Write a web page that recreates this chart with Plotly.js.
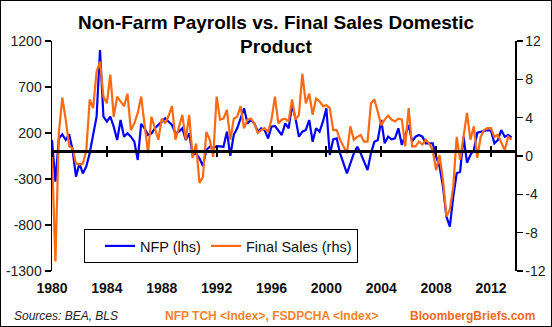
<!DOCTYPE html>
<html>
<head>
<meta charset="utf-8">
<script src="https://cdn.plot.ly/plotly-3.0.1.min.js"></script>
<style>
  html, body { margin: 0; padding: 0; background: #fff; }
  #wrap { width: 552px; height: 327px; box-sizing: border-box; border: 1px solid #000; overflow: hidden; }
  #chart { width: 550px; height: 325px; }
</style>
</head>
<body>
<div id="wrap"><div id="chart"></div></div>
<script>
// Quarterly observations, starting 1980 Q1
const startYear = 1980;

// Non-farm payrolls, monthly change averaged per quarter (thousands) - left axis
const nfp = [
  124, -329, 140, 186, 124, 186, 15, -275, -130, -240, -163, -18, 182, 377, 1102, 377,
  323, 377, 269, 124, 341, 160, 197, 160, 106, -93, 300, 251, 178, 197, 251, 287,
  323, 359, 323, 287, 197, 215, 251, 124, 197, -39, -21, -75, -159, 15, 51, 33,
  58, 58, 51, 215, -48, 180, 251, 360, 468, 305, 341, 305, 214, 251, 232, 142,
  269, 276, 232, 178, 305, 251, 504, 360, 160, 214, 232, 341, 105, 251, 214, 323,
  468, -39, 131, 142, -21, -130, -238, -130, -21, 51, -21, -112, -202, -21, 105, 124,
  341, 88, 160, 131, 142, 251, 70, 178, 287, 105, 160, 178, 160, 88, 88, 88,
  -57, -166, -383, -710, -818, -492, -238, -221, 160, -123, -39, 15, 203, 214, 225, 232,
  225, 88, 124, 232, 160, 178, 153
];

// Final sales of domestic product, % change annualized - right axis
const finalSales = [
  0.0, -11.0, 2.4, 6.1, 3.8, 1.0, 0.8, -0.8, -0.9, -0.8, 0.6, 5.9, 5.0, 8.8, 9.85, 6.2,
  5.5, 8.5, 4.1, 6.2, 5.7, 5.2, 6.5, 2.7, 3.4, 4.5, 6.2, 3.5, 0.3, 4.1, 2.9, 1.7,
  3.9, 3.4, 4.2, 5.2, 1.7, 3.0, 4.3, 1.7, 4.3, -0.2, 1.3, -2.8, -2.2, 2.5, 1.7, -0.1,
  6.2, 3.8, 3.9, 4.8, 1.7, 3.9, 4.1, 5.2, 2.9, 3.8, 3.9, 3.4, 2.4, 2.7, 2.9, 2.5,
  3.8, 6.2, 3.4, 3.8, 3.9, 3.6, 5.9, 3.8, 4.3, 8.6, 5.5, 6.5, 4.3, 6.0, 5.7, 5.2,
  5.3, 5.0, 2.7, 2.7, 1.7, 1.0, 0.3, 3.1, 1.7, 2.0, 2.2, 1.5, 1.5, 5.5, 5.9, 4.6,
  3.2, 3.8, 4.2, 3.8, 3.6, 3.9, 3.8, 1.0, 5.0, 1.0, 1.0, 1.5, 1.2, 1.7, 1.3, 0.6,
  -1.5, 0.1, -2.5, -6.3, -5.6, -3.2, 2.0, -0.4, 2.0, 4.5, 1.7, 3.1, -0.2, 2.0, 2.7, 2.9,
  2.9, 2.0, 2.2, 1.3, 0.6, 2.0, 1.7
];

// Axis ticks
const xTickYears = [1980, 1984, 1988, 1992, 1996, 2000, 2004, 2008, 2012];
const leftTicks = [-1300, -800, -300, 200, 700, 1200];
const rightTicks = [-12, -8, -4, 0, 4, 8, 12];

const xRange = [1980, 2013.75];
const quarters = nfp.map((_, i) => startYear + i / 4);

const FONT = 'Liberation Sans, Arial, sans-serif';

const traces = [
  { x: quarters, y: nfp, name: 'NFP (lhs)', type: 'scatter', mode: 'lines',
    line: { color: '#0000FF', width: 2.2 }, xaxis: 'x', yaxis: 'y' },
  { x: quarters, y: finalSales, name: 'Final Sales (rhs)', type: 'scatter', mode: 'lines',
    line: { color: '#FF6A10', width: 2.2 }, xaxis: 'x', yaxis: 'y2' },
  { x: [], y: [], xaxis: 'x2', yaxis: 'y', showlegend: false, hoverinfo: 'skip' },
  { x: [], y: [], xaxis: 'x3', yaxis: 'y', showlegend: false, hoverinfo: 'skip' }
];

const zeroPos = (0 - leftTicks[0]) / (leftTicks[leftTicks.length - 1] - leftTicks[0]);

const yStyle = {
  showline: true, linecolor: '#000', linewidth: 1.5,
  ticks: 'outside', ticklen: 6, tickwidth: 1.5, tickcolor: '#000',
  showgrid: false, zeroline: false, fixedrange: true,
  tickfont: { family: FONT, size: 14, color: '#222' }
};

const layout = {
  width: 550, height: 325,
  margin: { l: 51, r: 36, t: 40, b: 55, pad: 0 },
  paper_bgcolor: '#fff', plot_bgcolor: '#fff',
  showlegend: true,
  title: {
    text: 'Non-Farm Payrolls vs. Final Sales Domestic<br>Product',
    font: { family: FONT, size: 19, weight: 'bold', color: '#000' },
    x: 0.5, xref: 'container', xanchor: 'center',
    y: 0.915, yref: 'container', yanchor: 'top'
  },
  xaxis: {
    range: xRange, tickvals: xTickYears, ticktext: xTickYears.map(String),
    showline: false, ticks: '', showgrid: false, zeroline: false,
    tickfont: { family: FONT, size: 14, weight: 'bold', color: '#111' },
    ticklabelstandoff: 7
  },
  xaxis2: {
    overlaying: 'x', anchor: 'free', position: zeroPos, range: xRange,
    tickvals: xTickYears, showticklabels: false,
    showline: true, linecolor: '#000', linewidth: 2.5,
    ticks: 'outside', ticklen: 4, tickwidth: 2, tickcolor: '#000',
    showgrid: false, zeroline: false
  },
  xaxis3: {
    overlaying: 'x', anchor: 'free', position: zeroPos, range: xRange,
    tickvals: xTickYears, showticklabels: false, showline: false,
    ticks: 'inside', ticklen: 5, tickwidth: 2, tickcolor: '#000',
    showgrid: false, zeroline: false
  },
  yaxis: Object.assign({}, yStyle, {
    range: [leftTicks[0], leftTicks[leftTicks.length - 1]],
    tickvals: leftTicks, ticktext: leftTicks.map(String)
  }),
  yaxis2: Object.assign({}, yStyle, {
    overlaying: 'y', side: 'right',
    range: [rightTicks[0], rightTicks[rightTicks.length - 1]],
    tickvals: rightTicks, ticktext: rightTicks.map(String)
  }),
  legend: {
    orientation: 'h', x: 0.0691, xanchor: 'left', y: 0.1826, yanchor: 'top',
    bgcolor: '#fff', bordercolor: '#000', borderwidth: 1,
    font: { family: FONT, size: 14.5, color: '#111' },
    title: { text: '\u2003', side: 'left', font: { family: FONT, size: 5 } },
    tracegroupgap: 0
  },
  annotations: [
    { text: 'Sources: BEA, BLS', xref: 'paper', yref: 'paper', x: -0.0864, y: -0.1957,
      xanchor: 'left', yanchor: 'middle', showarrow: false,
      font: { family: FONT, size: 12, style: 'italic', color: '#222' } },
    { text: 'NFP TCH &lt;Index&gt;, FSDPCHA &lt;Index&gt;', xref: 'paper', yref: 'paper', x: 0.475, y: -0.1957,
      xanchor: 'center', yanchor: 'middle', showarrow: false,
      font: { family: FONT, size: 12, weight: 'bold', color: '#F5832A' } },
    { text: 'BloombergBriefs.com', xref: 'paper', yref: 'paper', x: 1.0475, y: -0.1957,
      xanchor: 'right', yanchor: 'middle', showarrow: false,
      font: { family: FONT, size: 12, weight: 'bold', color: '#F06A22' } }
  ]
};

Plotly.newPlot('chart', traces, layout, { displayModeBar: false, staticPlot: true });
</script>
</body>
</html>
